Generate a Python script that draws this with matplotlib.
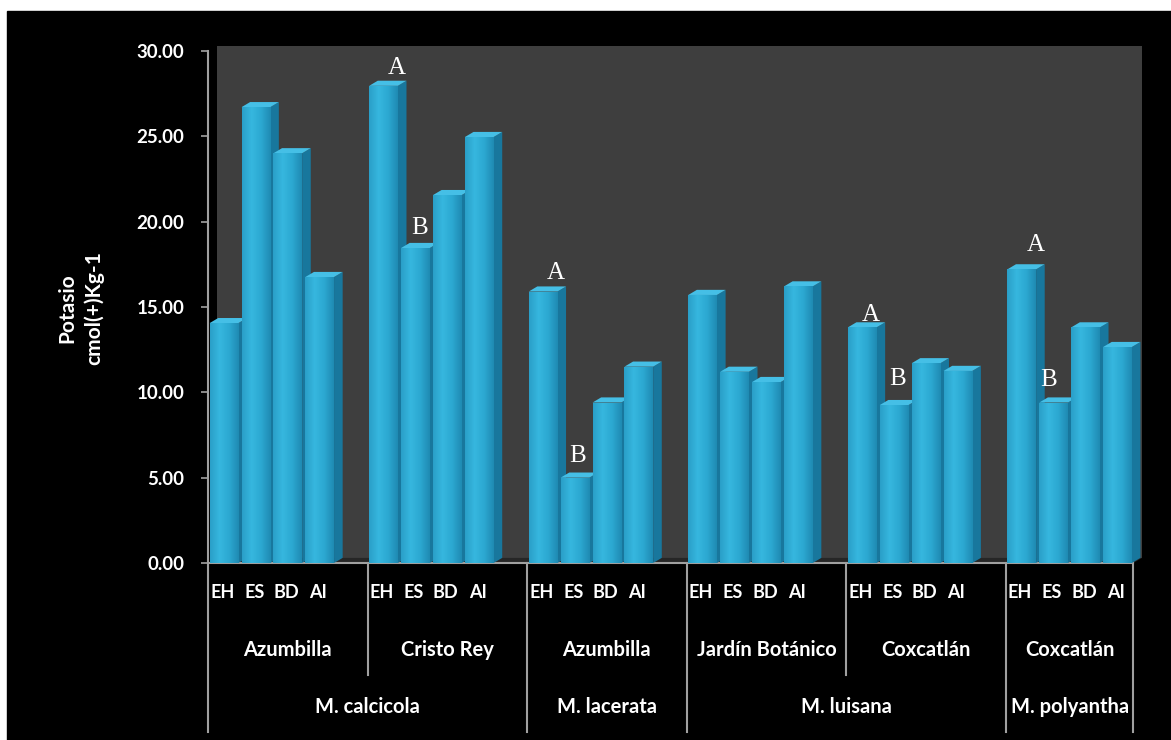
import numpy as np
import matplotlib.pyplot as plt
from matplotlib.patches import Polygon, Rectangle
from matplotlib.colors import LinearSegmentedColormap

plt.rcParams['font.family'] = ['Lato', 'DejaVu Sans']

treatments = ['EH', 'ES', 'BD', 'AI']
localities = ['Azumbilla', 'Cristo Rey', 'Azumbilla', 'Jardín Botánico', 'Coxcatlán', 'Coxcatlán']
species = ['M. calcicola', 'M. lacerata', 'M. luisana', 'M. polyantha']
localities_per_species = [2, 1, 2, 1]

# potasio cmol(+)/kg, one row per locality, columns EH ES BD AI
potasio = [
    [14.05, 26.7, 24.0, 16.75],
    [27.95, 18.45, 21.55, 24.95],
    [15.9, 5.0, 9.4, 11.5],
    [15.7, 11.2, 10.6, 16.2],
    [13.8, 9.25, 11.7, 11.25],
    [17.2, 9.4, 13.8, 12.65],
]

# significance letters (locality, treatment, letter)
letters = [(1, 0, 'A'), (1, 1, 'B'), (2, 0, 'A'), (2, 1, 'B'),
           (4, 0, 'A'), (4, 1, 'B'), (5, 0, 'A'), (5, 1, 'B')]
# hand placement of each letter, pixels from bar centre / bar top
letter_offsets = [(13, 18), (4, 20), (13, 19), (3, 22),
                  (9, 12), (4, 26), (14, 24), (-5, 23)]

W, H = 1171, 740
fig = plt.figure(figsize=(W / 100, H / 100), dpi=100, facecolor='white')
fig.patches.append(Rectangle((7 / W, 0), 1, (H - 11) / H, transform=fig.transFigure,
                             color='black', zorder=-10))

ax = fig.add_axes([208 / W, (H - 563) / H, 935 / W, 519 / H])
ax.set_facecolor('none')

n_groups = len(potasio)
slots = n_groups * 5 - 1   # four bars per group plus one empty slot between groups
dx, dy = 0.27, 0.3         # depth of the 3d effect
ymax = 30

# back wall and floor
ax.add_patch(Polygon([(dx, dy), (slots + dx, dy), (slots + dx, ymax + dy), (dx, ymax + dy)],
                     closed=True, color='#3e3e3e', zorder=1, linewidth=0))
ax.add_patch(Polygon([(0, 0), (slots, 0), (slots + dx, dy), (dx, dy)],
                     closed=True, color='#262626', zorder=1.1, linewidth=0))

xpos = [5 * g + k + 0.5 for g in range(n_groups) for k in range(len(treatments))]
values = [v for row in potasio for v in row]
bw = 0.9

bars = ax.bar(xpos, values, width=bw, color='#2aa7d0', linewidth=0)

front_cmap = LinearSegmentedColormap.from_list('front', ['#2a9fc8', '#36b7df', '#2ca8d1', '#1f8bb3'])
grad = np.linspace(0, 1, 64).reshape(1, -1)

for i, (bar, x, v) in enumerate(zip(bars, xpos, values)):
    z = 3 + 0.01 * i
    x0, x1 = x - bw / 2, x + bw / 2
    ax.add_patch(Polygon([(x1, 0), (x1 + dx, dy), (x1 + dx, v + dy), (x1, v)],
                         closed=True, color='#18779d', zorder=z, linewidth=0))
    ax.add_patch(Polygon([(x0, v), (x1, v), (x1 + dx, v + dy), (x0 + dx, v + dy)],
                         closed=True, color='#45bfe6', zorder=z, linewidth=0))
    bar.set_zorder(z + 0.004)
    im = ax.imshow(grad, extent=(x0, x1, 0, v), cmap=front_cmap, aspect='auto',
                   zorder=z + 0.005, interpolation='bilinear')
    im.set_clip_path(bar)

for (g, k, letter), (ox, oy) in zip(letters, letter_offsets):
    ax.annotate(letter, (5 * g + k + 0.5, potasio[g][k]), xytext=(ox, oy),
                textcoords='offset pixels', ha='center', va='center',
                fontsize=18, color='white', family='Liberation Serif', zorder=10)

ax.set_xlim(0, slots + 0.3)
ax.set_ylim(0, ymax + 0.4)

for s in ['top', 'right']:
    ax.spines[s].set_visible(False)
for s in ['left', 'bottom']:
    ax.spines[s].set_color('#a0a0a0')
    ax.spines[s].set_linewidth(1.5)
ax.spines['left'].set_bounds(0, ymax)
ax.spines['bottom'].set_bounds(0, slots)

ax.set_yticks(np.arange(0, ymax + 1, 5))
ax.set_yticklabels(['%.2f' % t for t in np.arange(0, ymax + 1, 5)])
ax.tick_params(axis='y', colors='#a0a0a0', length=5, width=1.2, pad=12,
               labelcolor='white', labelsize=13.5)
for lab in ax.get_yticklabels():
    lab.set_fontweight('bold')
ax.set_xticks([])

# category table under the axis
axh = 519.0
trans = ax.get_xaxis_transform()
for g in range(n_groups):
    for k, t in enumerate(treatments):
        ax.text(5 * g + k + 0.45, -30 / axh, t, transform=trans, ha='center', va='center',
                fontsize=13, fontweight='bold', color='white')
    start, end = 5 * g, min(5 * g + 5, slots)
    ax.text((start + end) / 2, -87 / axh, localities[g], transform=trans, ha='center',
            va='center', fontsize=14.5, fontweight='bold', color='white')

# species spans and dividers
g0 = 0
species_edges = [0]
for sp, n in zip(species, localities_per_species):
    start, end = 5 * g0, min(5 * (g0 + n), slots)
    ax.text((start + end) / 2, -144 / axh, sp, transform=trans, ha='center', va='center',
            fontsize=14.5, fontweight='bold', color='white')
    for j in range(1, n):
        xs = 5 * (g0 + j)
        ax.plot([xs, xs], [0, -112 / axh], transform=trans, color='#a0a0a0', lw=1.5, clip_on=False)
    species_edges.append(end)
    g0 += n
for xs in species_edges:
    ax.plot([xs, xs], [0, -169 / axh], transform=trans, color='#a0a0a0', lw=1.5, clip_on=False)

fig.text(81 / W, 1 - 308 / H, 'Potasio\ncmol(+)Kg-1', rotation=90, ha='center', va='center',
         ma='center', fontsize=15, fontweight='bold', color='white', linespacing=1.4)

fig.savefig('out.png', dpi=100, facecolor='white')
